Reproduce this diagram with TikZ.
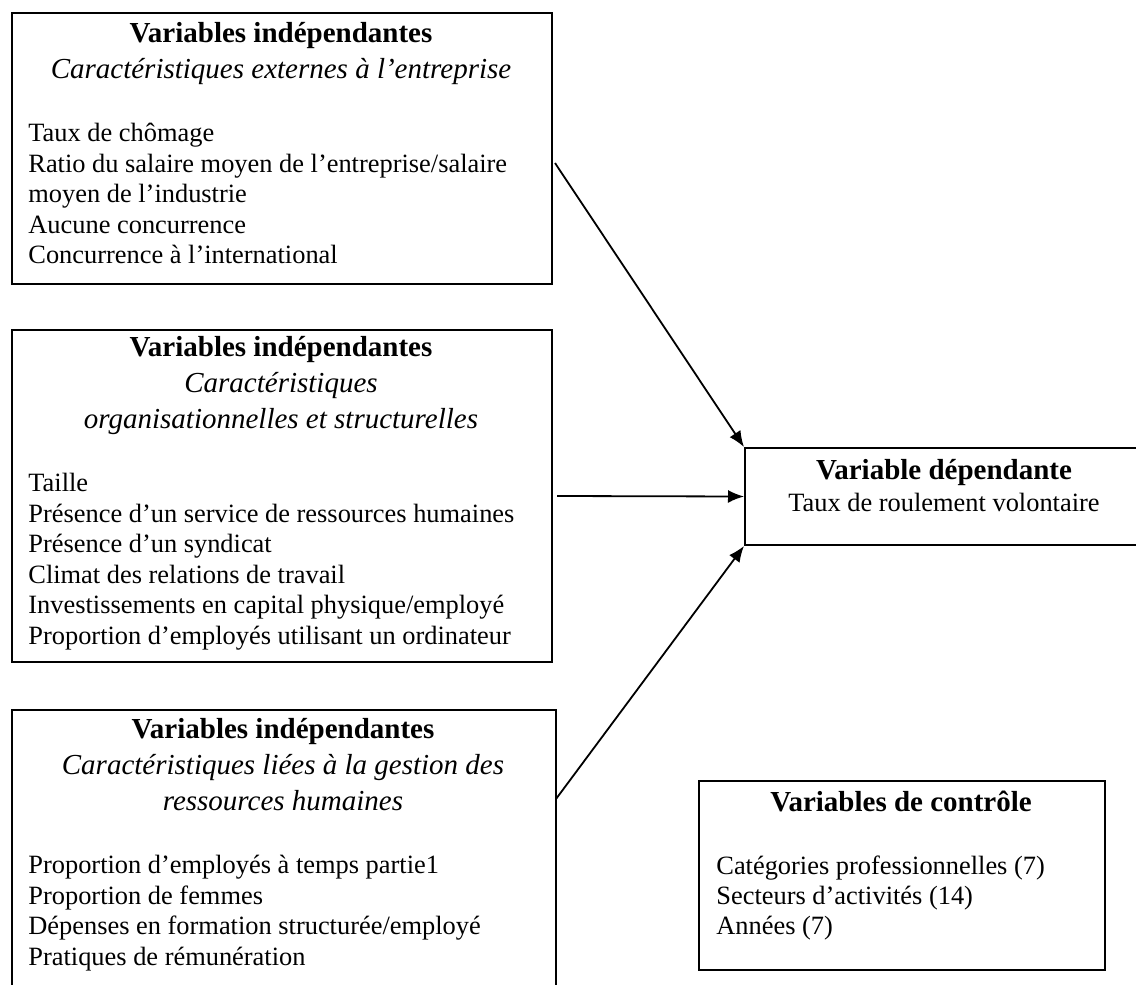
\documentclass[tikz,border=0pt]{standalone}
\usepackage{fontspec}
\setmainfont{Liberation Serif}
\usepackage{tikz}
\usetikzlibrary{arrows.meta, calc, positioning}

\newcommand{\tete}{\fontsize{14.5pt}{18pt}\selectfont}
\newcommand{\corps}{\fontsize{13.2pt}{15pt}\selectfont}

\begin{document}
\begin{tikzpicture}[x=0.5pt, y=-0.5pt, >={Latex[length=8pt, width=6.5pt]},
    boite/.style={draw, line width=1pt, anchor=north west, inner sep=0pt},
    titre/.style={font=\tete\bfseries, anchor=mid, inner sep=0pt},
    soustitre/.style={font=\tete\itshape, anchor=mid, inner sep=0pt},
    ligne/.style={font=\corps, anchor=mid west, inner sep=0pt},
    fleche/.style={->, line width=0.9pt}]
    \useasboundingbox (0,0) rectangle (1136,985);
    \clip (0,0) rectangle (1136,985);

    % Cadres
    \node[boite, minimum width=270pt, minimum height=135.5pt] (ext) at (11,12) {};
    \node[boite, minimum width=270pt, minimum height=166pt] (org) at (11,329) {};
    \node[boite, minimum width=272pt, minimum height=145pt] (grh) at (11,709) {};
    \node[boite, minimum width=200pt, minimum height=48.5pt] (dep) at (744,447) {};
    \node[boite, minimum width=203pt, minimum height=94.5pt] (ctl) at (698,780) {};

    % Caractéristiques externes
    \node[titre] (ext-t) at (281,38) {Variables indépendantes};
    \node[soustitre] (ext-s) at (281,74) {Caractéristiques externes à l’entreprise};
    \foreach \txt [count=\i] in {Taux de chômage,
        Ratio du salaire moyen de l’entreprise/salaire,
        moyen de l’industrie, Aucune concurrence,
        Concurrence à l’international}
        \node[ligne] (ext-\i) at (28,{137+30.5*(\i-1)}) {\txt};

    % Caractéristiques organisationnelles
    \node[titre] (org-t) at (281,352) {Variables indépendantes};
    \node[soustitre] (org-s1) at (281,388) {Caractéristiques};
    \node[soustitre] (org-s2) at (281,424) {organisationnelles et structurelles};
    \foreach \txt [count=\i] in {Taille,
        Présence d’un service de ressources humaines,
        Présence d’un syndicat, Climat des relations de travail,
        Investissements en capital physique/employé,
        Proportion d’employés utilisant un ordinateur}
        \node[ligne] (org-\i) at (28,{487+30.5*(\i-1)}) {\txt};

    % Gestion des ressources humaines
    \node[titre] (grh-t) at (283,734) {Variables indépendantes};
    \node[soustitre] (grh-s1) at (283,770) {Caractéristiques liées à la gestion des};
    \node[soustitre] (grh-s2) at (283,806) {ressources humaines};
    \foreach \txt [count=\i] in {Proportion d’employés à temps partie1,
        Proportion de femmes,
        Dépenses en formation structurée/employé,
        Pratiques de rémunération}
        \node[ligne] (grh-\i) at (28,{869+30.5*(\i-1)}) {\txt};

    % Variable dépendante
    \node[titre] (dep-t) at (944,475) {Variable dépendante};
    \node[font=\corps, anchor=mid, inner sep=0pt] (dep-s) at (944,507) {Taux de roulement volontaire};

    % Variables de contrôle
    \node[titre] (ctl-t) at (901,807) {Variables de contrôle};
    \foreach \txt [count=\i] in {Catégories professionnelles (7),
        Secteurs d’activités (14), Années (7)}
        \node[ligne] (ctl-\i) at (716,{870+30*(\i-1)}) {\txt};

    % Flèches
    \coordinate (ext-d) at (555,163);
    \coordinate (grh-d) at (556,799);
    \draw[fleche] (ext-d) -- (dep.north west);
    \draw[fleche] ($(org.east)+(4,0)$) -- (dep.west);
    \draw[fleche] (grh-d) -- (dep.south west);

\end{tikzpicture}
\end{document}
